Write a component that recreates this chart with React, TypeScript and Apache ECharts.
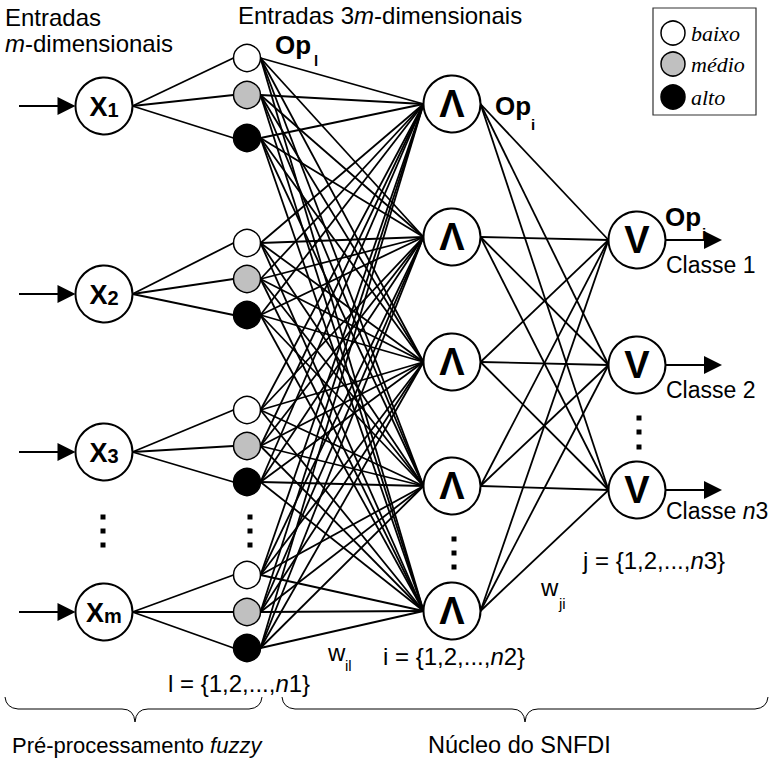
import React, { useEffect, useRef } from 'react';
import * as echarts from 'echarts';

const W = 772;
const H = 763;

// ---- data (node layout of the network) ----
const inputX = 104;
const inputYs = [106, 294, 452, 612];
const inputSubs = ['1', '2', '3', 'm'];

const fuzzyX = 247;
const fuzzyYs = [
  [58, 95, 138],
  [243, 279, 315],
  [410, 446, 482],
  [575, 612, 648],
];
const fuzzyLevels = ['baixo', 'médio', 'alto'];
const fuzzyColors = ['#ffffff', '#c0c0c0', '#000000'];

const andX = 452;
const andYs = [104, 237, 362, 486, 611];

const orX = 637;
const orYs = [240, 365, 490];
const classLabels = ['Classe 1', 'Classe 2', 'Classe {i|n}3'];
const classLabelOffsets = [25, 25, 21];

const ellipsisDots = [
  [103, 517], [103, 531], [103, 545],
  [250, 517], [250, 531], [250, 545],
  [454, 539], [454, 553], [454, 567],
  [639, 418], [639, 432], [639, 447],
];

const R_BIG = 28.5;
const R_SMALL = 13.5;
const ARROW_HALF = 9;
const INPUT_ARROW_START = 19;
const OUTPUT_ARROW_TIP = 722;

const SANS = '"Liberation Sans", Arial, sans-serif';
const SERIF = '"Liberation Serif", "Times New Roman", serif';

// ---- edges built from node arrays ----
const inputEdges = inputYs.flatMap((y, g) =>
  fuzzyYs[g].map((fy) => ({ coords: [[inputX + R_BIG, y], [fuzzyX - R_SMALL, fy]] }))
);
const fuzzyAndEdges = fuzzyYs.flat().flatMap((fy) =>
  andYs.map((ay) => ({ coords: [[fuzzyX + R_SMALL, fy], [andX - R_BIG, ay]] }))
);
const andOrEdges = andYs.flatMap((ay) =>
  orYs.map((oy) => ({ coords: [[andX + R_BIG, ay], [orX - R_BIG, oy]] }))
);
const arrowEdges = [
  ...inputYs.map((y) => ({ coords: [[INPUT_ARROW_START, y], [inputX - R_BIG - ARROW_HALF, y]] })),
  ...orYs.map((y) => ({ coords: [[orX + R_BIG, y], [OUTPUT_ARROW_TIP - ARROW_HALF, y]] })),
];

function txt(text: string, x: number, y: number, opts: any = {}) {
  const size = opts.fontSize ?? 23;
  return {
    type: 'text',
    x,
    y,
    z: 10,
    style: {
      text,
      fontSize: size,
      fontFamily: opts.fontFamily ?? SANS,
      fontWeight: opts.fontWeight ?? 'normal',
      fontStyle: opts.fontStyle ?? 'normal',
      fill: '#000',
      align: opts.align ?? 'left',
      verticalAlign: 'middle',
      textAlign: opts.align ?? 'left',
      textVerticalAlign: 'middle',
      rich: opts.italic ? { i: { fontSize: size, fontFamily: SANS, fontStyle: 'italic', fill: '#000' } } : undefined,
    },
  };
}

function brace(x0: number, x1: number, xm: number) {
  const top = 697;
  const mid = 709;
  const tip = 722;
  const c = 13;
  const style = { stroke: '#000', lineWidth: 1, fill: null };
  return [
    { type: 'bezierCurve', shape: { x1: x0, y1: top, x2: x0 + c, y2: mid, cpx1: x0 + 1, cpy1: mid - 1 }, style },
    { type: 'line', shape: { x1: x0 + c, y1: mid, x2: xm - c, y2: mid }, style },
    { type: 'bezierCurve', shape: { x1: xm - c, y1: mid, x2: xm, y2: tip, cpx1: xm - 1, cpy1: mid }, style },
    { type: 'bezierCurve', shape: { x1: xm, y1: tip, x2: xm + c, y2: mid, cpx1: xm + 1, cpy1: mid }, style },
    { type: 'line', shape: { x1: xm + c, y1: mid, x2: x1 - c, y2: mid }, style },
    { type: 'bezierCurve', shape: { x1: x1 - c, y1: mid, x2: x1, y2: top, cpx1: x1 - 1, cpy1: mid - 1 }, style },
  ];
}

const legendYs = [33, 64, 97];

const graphic: any[] = [
  txt('Entradas', 5, 17, { fontSize: 24 }),
  txt('{i|m}-dimensionais', 5, 43, { fontSize: 24, italic: true }),
  txt('Entradas 3{i|m}-dimensionais', 238, 15, { fontSize: 24, italic: true }),
  txt('Op', 275, 45, { fontWeight: 'bold', fontSize: 26 }),
  txt('l', 314, 60, { fontWeight: 'bold', fontSize: 15 }),
  txt('Op', 495, 106, { fontWeight: 'bold', fontSize: 26 }),
  txt('i', 531, 124, { fontWeight: 'bold', fontSize: 15 }),
  txt('Op', 665, 217, { fontWeight: 'bold', fontSize: 26 }),
  txt('i', 702, 233, { fontWeight: 'bold', fontSize: 15 }),
  ...orYs.map((y, k) => txt(classLabels[k], 666, y + classLabelOffsets[k], { italic: true })),
  txt('j = {1,2,...,{i|n}3}', 583, 560, { fontSize: 24, italic: true }),
  txt('w', 541, 587, { fontSize: 24 }),
  txt('ji', 559, 603, { fontSize: 15 }),
  txt('w', 328, 652, { fontSize: 24 }),
  txt('il', 345, 665, { fontSize: 15 }),
  txt('i = {1,2,...,{i|n}2}', 383, 656, { fontSize: 24, italic: true }),
  txt('l = {1,2,...,{i|n}1}', 168, 683, { fontSize: 24, italic: true }),
  txt('Pré-processamento {i|fuzzy}', 12, 745, { fontSize: 22, italic: true }),
  txt('Núcleo do SNFDI', 428, 745, { fontSize: 23.5 }),
  ...brace(5, 262, 135),
  ...brace(282, 768, 525),
  {
    type: 'rect',
    z: 10,
    shape: { x: 653, y: 8, width: 103, height: 107 },
    style: { fill: '#fff', stroke: '#333', lineWidth: 1.2 },
  },
  ...fuzzyLevels.flatMap((lvl, k) => [
    {
      type: 'circle',
      z: 11,
      shape: { cx: 673, cy: legendYs[k], r: 12 },
      style: { fill: fuzzyColors[k], stroke: '#000', lineWidth: 1.5 },
    },
    {
      type: 'text',
      z: 11,
      x: 691,
      y: legendYs[k],
      style: {
        text: lvl,
        fontSize: 22,
        fontFamily: SERIF,
        fontStyle: 'italic',
        fill: '#000',
        align: 'left',
        verticalAlign: 'middle',
        textAlign: 'left',
        textVerticalAlign: 'middle',
      },
    },
  ]),
];

const option: any = {
  animation: false,
  backgroundColor: '#fff',
  grid: { left: 0, right: 0, top: 0, bottom: 0 },
  xAxis: { type: 'value', min: 0, max: W, show: false },
  yAxis: { type: 'value', min: 0, max: H, inverse: true, show: false },
  graphic,
  series: [
    {
      type: 'lines',
      coordinateSystem: 'cartesian2d',
      z: 2,
      silent: true,
      lineStyle: { color: '#000', width: 1.8, opacity: 1 },
      data: [...inputEdges, ...fuzzyAndEdges, ...andOrEdges],
    },
    {
      type: 'lines',
      coordinateSystem: 'cartesian2d',
      z: 2,
      silent: true,
      symbol: ['none', 'triangle'],
      symbolSize: [12, 18],
      lineStyle: { color: '#000', width: 2, opacity: 1 },
      itemStyle: { color: '#000' },
      data: arrowEdges,
    },
    {
      type: 'scatter',
      z: 3,
      silent: true,
      symbol: 'circle',
      symbolSize: R_BIG * 2,
      itemStyle: { color: '#fff', borderColor: '#000', borderWidth: 2, opacity: 1 },
      label: {
        show: true,
        position: 'inside',
        formatter: (p: any) => `{b|X}{s|${inputSubs[p.dataIndex]}}`,
        rich: {
          b: { fontSize: 27, fontWeight: 'bold', fontFamily: SANS, color: '#000', verticalAlign: 'bottom', lineHeight: 28 },
          s: { fontSize: 20, fontWeight: 'bold', fontFamily: SANS, color: '#000', verticalAlign: 'bottom', lineHeight: 25 },
        },
      },
      data: inputYs.map((y) => [inputX, y]),
    },
    {
      type: 'scatter',
      z: 3,
      silent: true,
      symbol: 'circle',
      symbolSize: R_SMALL * 2,
      itemStyle: { borderColor: '#000', borderWidth: 1.5, opacity: 1 },
      data: fuzzyYs.flatMap((g) =>
        g.map((y, k) => ({ value: [fuzzyX, y], itemStyle: { color: fuzzyColors[k] } }))
      ),
    },
    {
      type: 'scatter',
      z: 3,
      silent: true,
      symbol: 'circle',
      symbolSize: R_BIG * 2,
      itemStyle: { color: '#fff', borderColor: '#000', borderWidth: 2, opacity: 1 },
      label: {
        show: true,
        position: 'inside',
        formatter: 'Λ',
        fontSize: 38,
        fontWeight: 'bold',
        fontFamily: SANS,
        color: '#000',
      },
      data: andYs.map((y) => [andX, y]),
    },
    {
      type: 'scatter',
      z: 3,
      silent: true,
      symbol: 'circle',
      symbolSize: R_BIG * 2,
      itemStyle: { color: '#fff', borderColor: '#000', borderWidth: 2, opacity: 1 },
      label: {
        show: true,
        position: 'inside',
        formatter: 'V',
        fontSize: 38,
        fontWeight: 'bold',
        fontFamily: SANS,
        color: '#000',
      },
      data: orYs.map((y) => [orX, y]),
    },
    {
      type: 'scatter',
      z: 3,
      silent: true,
      symbol: 'rect',
      symbolSize: 5,
      itemStyle: { color: '#000', opacity: 1 },
      data: ellipsisDots,
    },
  ],
};

export default function App() {
  const ref = useRef<HTMLDivElement>(null);
  useEffect(() => {
    const chart = echarts.init(ref.current!, null, { renderer: 'svg' });
    chart.setOption(option);
    return () => chart.dispose();
  }, []);
  return (
    <div
      ref={ref}
      style={{ position: 'absolute', left: 0, top: 0, width: W, height: H, background: '#fff' }}
    />
  );
}
